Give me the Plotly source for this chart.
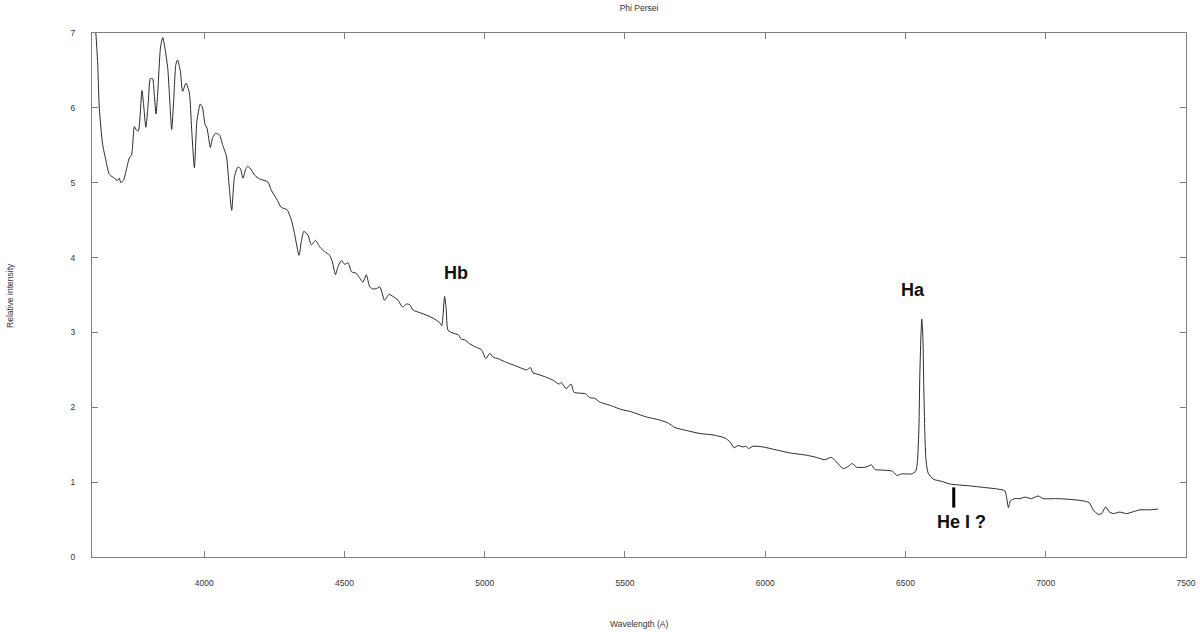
import plotly.graph_objects as go

wavelength = [
    3612, 3620, 3626, 3638, 3650, 3662, 3680, 3691, 3697, 3703, 3713, 3721, 3733, 3741,
    3751, 3757, 3765, 3778, 3784, 3792, 3801, 3808, 3816, 3822, 3828, 3834, 3844, 3852,
    3860, 3870, 3876, 3884, 3891, 3899, 3905, 3915, 3923, 3935, 3947, 3955, 3965, 3974,
    3986, 3994, 4003, 4010, 4022, 4030, 4040, 4054, 4066, 4079, 4088, 4098, 4108, 4120,
    4129, 4138, 4148, 4156, 4168, 4180, 4198, 4227, 4239, 4257, 4275, 4295, 4311, 4322,
    4338, 4346, 4355, 4370, 4382, 4397, 4412, 4429, 4447, 4457, 4468, 4477, 4489, 4501,
    4513, 4525, 4542, 4554, 4566, 4578, 4590, 4602, 4614, 4626, 4643, 4659, 4673, 4691,
    4707, 4721, 4733, 4744, 4780, 4816, 4840, 4847, 4851, 4857, 4863, 4869, 4887, 4905,
    4917, 4929, 4946, 4970, 4988, 5004, 5018, 5030, 5047, 5077, 5113, 5149, 5163, 5172,
    5190, 5220, 5244, 5265, 5273, 5290, 5308, 5318, 5333, 5360, 5374, 5392, 5410, 5452,
    5487, 5523, 5538, 5577, 5624, 5654, 5678, 5719, 5767, 5814, 5856, 5874, 5889, 5903,
    5921, 5931, 5941, 5957, 5992, 6040, 6088, 6147, 6183, 6212, 6236, 6254, 6278, 6296,
    6311, 6325, 6358, 6379, 6391, 6420, 6450, 6458, 6470, 6486, 6504, 6522, 6537, 6543,
    6548, 6551, 6555, 6558, 6562, 6565, 6569, 6573, 6581, 6599, 6629, 6658, 6682, 6730,
    6777, 6825, 6854, 6860, 6867, 6874, 6890, 6908, 6926, 6949, 6973, 6991, 7039, 7086,
    7134, 7155, 7169, 7187, 7199, 7214, 7226, 7240, 7264, 7288, 7312, 7336, 7371, 7401,
]
intensity = [
    7.10, 6.62, 6.00, 5.51, 5.29, 5.11, 5.06, 5.03, 5.06, 5.00, 5.04, 5.15, 5.33, 5.37,
    5.75, 5.71, 5.69, 6.23, 6.04, 5.74, 6.09, 6.39, 6.39, 6.18, 5.92, 6.18, 6.80, 6.94,
    6.80, 6.53, 6.18, 5.71, 6.09, 6.58, 6.64, 6.49, 6.22, 6.33, 6.20, 5.73, 5.20, 5.82,
    6.05, 6.00, 5.78, 5.73, 5.47, 5.60, 5.66, 5.64, 5.50, 5.36, 5.00, 4.63, 5.08, 5.21,
    5.19, 5.06, 5.18, 5.22, 5.17, 5.10, 5.05, 5.01, 4.90, 4.79, 4.67, 4.64, 4.50, 4.32,
    4.03, 4.21, 4.35, 4.30, 4.17, 4.23, 4.14, 4.08, 4.03, 3.94, 3.77, 3.88, 3.96, 3.91,
    3.93, 3.81, 3.79, 3.73, 3.67, 3.77, 3.61, 3.58, 3.585, 3.61, 3.43, 3.51, 3.48, 3.43,
    3.34, 3.38, 3.37, 3.30, 3.25, 3.19, 3.13, 3.09, 3.21, 3.48, 3.30, 3.03, 2.99, 2.97,
    2.91, 2.90, 2.85, 2.80, 2.77, 2.65, 2.72, 2.67, 2.65, 2.60, 2.55, 2.50, 2.53, 2.46,
    2.44, 2.40, 2.36, 2.31, 2.33, 2.25, 2.31, 2.20, 2.19, 2.18, 2.13, 2.12, 2.07, 2.02,
    1.97, 1.94, 1.92, 1.87, 1.83, 1.79, 1.73, 1.69, 1.65, 1.63, 1.59, 1.54, 1.46, 1.49,
    1.47, 1.48, 1.45, 1.48, 1.47, 1.43, 1.39, 1.36, 1.33, 1.30, 1.33, 1.27, 1.18, 1.21,
    1.25, 1.20, 1.20, 1.23, 1.17, 1.16, 1.15, 1.13, 1.09, 1.11, 1.11, 1.11, 1.15, 1.30,
    1.74, 2.41, 2.94, 3.18, 2.94, 2.32, 1.65, 1.30, 1.12, 1.04, 1.01, 0.975, 0.965, 0.95,
    0.93, 0.91, 0.885, 0.805, 0.66, 0.75, 0.78, 0.78, 0.80, 0.78, 0.815, 0.78, 0.78, 0.77,
    0.75, 0.725, 0.63, 0.57, 0.58, 0.67, 0.605, 0.58, 0.60, 0.58, 0.605, 0.63, 0.63, 0.64,
]

x_ticks = [4000, 4500, 5000, 5500, 6000, 6500, 7000, 7500]
y_ticks = [0, 1, 2, 3, 4, 5, 6, 7]

line_labels = ["Hb", "Ha", "He I ?"]
label_x = [4896, 6526, 6700]
label_y = [3.79, 3.57, 0.47]
hei_x = 6672
hei_y = [0.66, 0.93]

fig = go.Figure()
fig.add_trace(go.Scatter(
    x=wavelength, y=intensity, mode="lines",
    line=dict(color="#2a2a2a", width=1, shape="spline", smoothing=0.6),
    showlegend=False, hoverinfo="x+y",
))
fig.add_trace(go.Scatter(
    x=[hei_x, hei_x], y=hei_y, mode="lines",
    line=dict(color="black", width=3), showlegend=False, hoverinfo="skip",
))

for t, xv, yv in zip(line_labels, label_x, label_y):
    fig.add_annotation(x=xv, y=yv, xref="x", yref="y", text=f"<b>{t}</b>",
                       showarrow=False, font=dict(family="Liberation Sans", size=18, color="#111"))

axis_common = dict(
    showline=True, linecolor="#7f7f7f", linewidth=1, mirror="ticks",
    ticks="inside", ticklen=6, tickcolor="#7f7f7f", tickwidth=1,
    showgrid=False, zeroline=False, automargin=False,
    tickfont=dict(family="Liberation Sans", size=8.5, color="#333"),
)

fig.update_layout(
    width=1200, height=632,
    margin=dict(l=92, r=14, t=33, b=75, autoexpand=False),
    paper_bgcolor="white", plot_bgcolor="white",
    title=dict(text="Phi Persei", x=0.5325, xanchor="center", y=0.987, yanchor="middle",
               font=dict(family="Liberation Sans", size=8.5, color="#333")),
    xaxis=dict(range=[3600, 7500], tickvals=x_ticks, ticklabelstandoff=18, **axis_common),
    yaxis=dict(range=[0, 7], tickvals=y_ticks, ticklabelstandoff=14, **axis_common),
)
fig.add_annotation(x=0.5, y=-0.128, xref="paper", yref="paper", text="Wavelength (A)",
                   showarrow=False, yanchor="middle",
                   font=dict(family="Liberation Sans", size=8.5, color="#333"))
fig.add_annotation(x=-0.075, y=0.5, xref="paper", yref="paper", text="Relative intensity",
                   showarrow=False, textangle=-90, xanchor="center",
                   font=dict(family="Liberation Sans", size=8.5, color="#333"))

fig.write_html("out.html", config={"displayModeBar": False},
               post_script="document.body.style.margin='0';document.body.style.overflow='hidden';")
